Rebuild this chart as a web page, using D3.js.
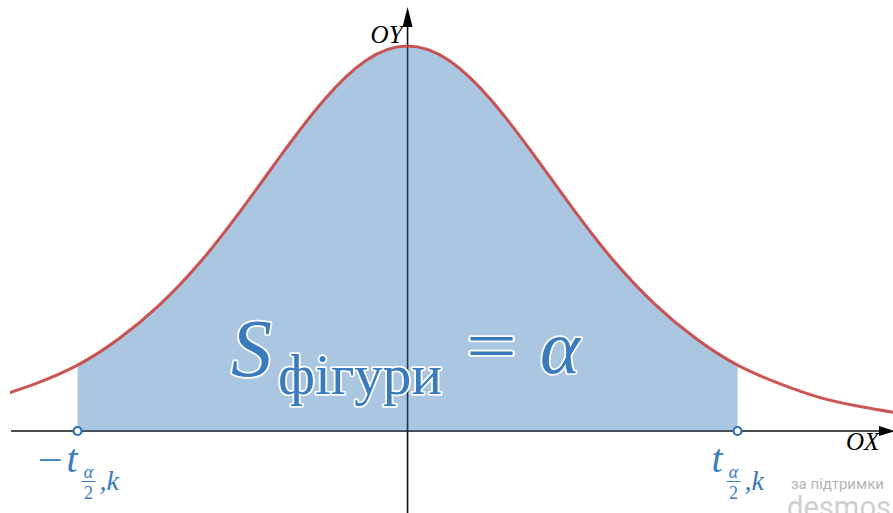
<!DOCTYPE html>
<html>
<head>
<meta charset="utf-8">
<script src="https://cdn.jsdelivr.net/npm/d3@7"></script>
<style>
  html, body { margin: 0; padding: 0; background: #fff; }
  svg { display: block; }
  .math { font-family: "Liberation Serif", "Times New Roman", "DejaVu Serif", serif; }
  .halo { paint-order: stroke; stroke: #fff; stroke-linejoin: round; }
</style>
</head>
<body>
<div id="chart"></div>
<script>
// density curve (x in t units, y in density units)
var curveX = [-2.5, -2.25, -2, -1.75, -1.5, -1.25, -1, -0.75, -0.5, -0.25, 0,
              0.25, 0.5, 0.75, 1, 1.25, 1.5, 1.75, 2, 2.25, 2.5, 2.75, 3];
var curveY = [0.033, 0.047, 0.065, 0.091, 0.125, 0.168, 0.220, 0.276, 0.328, 0.366, 0.380,
              0.366, 0.328, 0.276, 0.220, 0.168, 0.125, 0.091, 0.065, 0.047, 0.033, 0.024, 0.017];

// critical points -t and t
var critical = [-2, 2];

var width = 893, height = 513;
var blue = "#2d70b3", red = "#c74440", textBlue = "#3a7bbd";

var x = d3.scaleLinear().domain([-2.47, 2.942]).range([0, width]);
var y = d3.scaleLinear().domain([0, 0.4255]).range([431, 0]);

var points = curveX.map(function (d, i) { return { x: d, y: curveY[i] }; });

var svg = d3.select("#chart").append("svg")
  .attr("width", width)
  .attr("height", height);

svg.append("defs").append("clipPath").attr("id", "plot")
  .append("rect").attr("x", 10).attr("y", 0).attr("width", width - 10).attr("height", height);

var g = svg.append("g").attr("clip-path", "url(#plot)");

// axes
var x0 = x(0), y0 = y(0);
g.append("line")
  .attr("x1", 11).attr("x2", width - 6)
  .attr("y1", y0).attr("y2", y0)
  .attr("stroke", "#111").attr("stroke-width", 1.6);
g.append("path")
  .attr("d", "M" + (width + 2) + "," + y0 + "L" + (width - 14) + "," + (y0 - 5) + "L" + (width - 14) + "," + (y0 + 5) + "Z")
  .attr("fill", "#000");

g.append("line")
  .attr("x1", x0).attr("x2", x0)
  .attr("y1", 22).attr("y2", height)
  .attr("stroke", "#111").attr("stroke-width", 1.6);
g.append("path")
  .attr("d", "M" + x0 + ",7L" + (x0 - 5) + ",27L" + (x0 + 5) + ",27Z")
  .attr("fill", "#000");

// shaded area between -t and t
var inside = points.filter(function (d) { return d.x >= critical[0] && d.x <= critical[1]; });
var area = d3.area()
  .x(function (d) { return x(d.x); })
  .y0(y0)
  .y1(function (d) { return y(d.y); })
  .curve(d3.curveNatural);
g.append("path")
  .datum(inside)
  .attr("d", area)
  .attr("fill", blue)
  .attr("fill-opacity", 0.4);

// curve
var line = d3.line()
  .x(function (d) { return x(d.x); })
  .y(function (d) { return y(d.y); })
  .curve(d3.curveNatural);
g.append("path")
  .datum(points)
  .attr("d", line)
  .attr("fill", "none")
  .attr("stroke", red)
  .attr("stroke-width", 3)
  .attr("stroke-opacity", 0.9);

// open points on the axis
g.selectAll("circle.crit")
  .data(critical)
  .enter().append("circle")
  .attr("class", "crit")
  .attr("cx", function (d) { return x(d); })
  .attr("cy", y0)
  .attr("r", 4)
  .attr("fill", "#fff")
  .attr("stroke", blue)
  .attr("stroke-width", 2.2);

// axis names
svg.append("text").attr("class", "math")
  .attr("x", x0 - 5).attr("y", 43)
  .attr("text-anchor", "end")
  .attr("font-size", 25).attr("font-style", "italic")
  .text("OY");
svg.append("text").attr("class", "math")
  .attr("x", 846).attr("y", 450)
  .attr("font-size", 25).attr("font-style", "italic")
  .text("OX");

// critical point labels, tx = left edge of the "t"
function critLabel(tx, neg) {
  var lg = svg.append("g").attr("class", "math").attr("fill", textBlue);
  if (neg) {
    lg.append("text").attr("x", tx - 29).attr("y", 472)
      .attr("font-size", 36).attr("textLength", 25).attr("lengthAdjust", "spacingAndGlyphs")
      .text("\u2212");
  }
  lg.append("text").attr("x", tx).attr("y", 472)
    .attr("font-size", 40).attr("font-style", "italic").text("t");
  lg.append("text").attr("x", tx + 22).attr("y", 478)
    .attr("text-anchor", "middle").attr("font-size", 18).attr("font-style", "italic").text("\u03b1");
  lg.append("line").attr("x1", tx + 15).attr("x2", tx + 29).attr("y1", 481.5).attr("y2", 481.5)
    .attr("stroke", textBlue).attr("stroke-width", 1);
  lg.append("text").attr("x", tx + 22).attr("y", 499)
    .attr("text-anchor", "middle").attr("font-size", 18).text("2");
  lg.append("text").attr("x", tx + 33).attr("y", 490)
    .attr("font-size", 28).attr("font-style", "italic").text(",k");
}
critLabel(x(critical[0]) - 11, true);
critLabel(x(critical[1]) - 26, false);

// area label
var lab = svg.append("g").attr("class", "math halo").attr("fill", textBlue)
  .attr("stroke-width", 3.5);
lab.append("text").attr("x", 231).attr("y", 376)
  .attr("font-size", 82).attr("font-style", "italic").text("S");
lab.append("text").attr("x", 278).attr("y", 394)
  .attr("font-size", 56).attr("textLength", 164).attr("lengthAdjust", "spacingAndGlyphs")
  .text("фігури");
lab.append("text").attr("x", 466).attr("y", 370)
  .attr("font-size", 72).attr("textLength", 51).attr("lengthAdjust", "spacingAndGlyphs")
  .text("=");
lab.append("text").attr("x", 540).attr("y", 373)
  .attr("font-size", 76).attr("font-style", "italic").text("\u03b1");

// watermark
svg.append("text")
  .attr("x", 791).attr("y", 489)
  .attr("font-family", "Roboto, 'Open Sans', sans-serif")
  .attr("font-size", 15).attr("fill", "#b4b4b4")
  .text("за підтримки");
svg.append("text")
  .attr("x", 787).attr("y", 518)
  .attr("font-family", "Roboto, 'Open Sans', sans-serif")
  .attr("font-size", 31).attr("fill", "#cfcfcf")
  .attr("textLength", 104).attr("lengthAdjust", "spacingAndGlyphs")
  .text("desmos");
</script>
</body>
</html>
